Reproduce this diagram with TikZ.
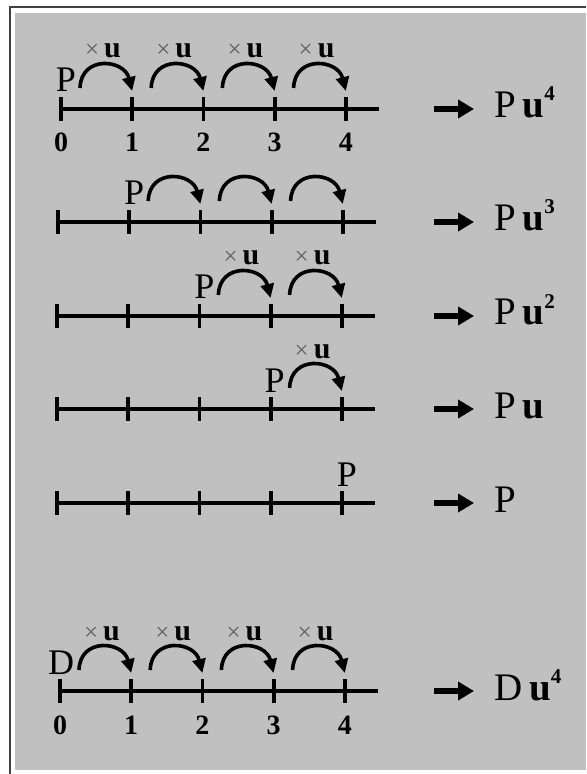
\documentclass[tikz,border=0pt]{standalone}
\usepackage{fontspec}
\setmainfont{Liberation Serif}
\usepackage{xcolor}
\definecolor{panelgray}{RGB}{192,192,192}
\definecolor{framegray}{RGB}{64,64,64}
\definecolor{timesgray}{RGB}{95,95,95}
\usetikzlibrary{arrows.meta}
\tikzset{
  axis line/.style={line width=2.1pt},
  tick mark/.style={line width=1.9pt},
  hop arrow/.style={-{Triangle[length=7pt,width=6.5pt]}, line width=1.8pt},
  result arrow/.style={-{Triangle[length=8pt,width=9pt]}, line width=3pt},
  start label/.style={font=\fontsize{18}{20}\selectfont, inner sep=0pt, anchor=base},
  hop label/.style={font=\fontsize{15}{17}\selectfont, inner sep=0pt, anchor=base},
  tick label/.style={font=\bfseries\fontsize{14}{16}\selectfont, inner sep=0pt, anchor=base},
  result label/.style={font=\fontsize{19.5}{22}\selectfont, inner sep=0pt, anchor=base west},
}
\newcommand{\timesu}{{\color{timesgray}\fontsize{12.5}{14}\selectfont ×}\,\textbf{u}}
\newcommand{\resultpow}[2]{#1\,\textbf{u}\raisebox{8.5pt}{\fontsize{10.5}{12}\selectfont\bfseries #2}}

\begin{document}
\begin{tikzpicture}[x=0.5pt, y=-0.5pt]
  \useasboundingbox (0,0) rectangle (586,774);
  \fill[white] (0,0) rectangle (586,774);
  \fill[panelgray] (15,13) rectangle (586,770);
  \draw[framegray, line width=0.9pt] (10,774) -- (10,7) -- (586,7);

  % number lines
  \foreach \r/\y/\x in {1/109/61, 2/222/58, 3/316/57, 4/409/57, 5/503/57, 6/691/60} {
    \foreach \i in {0,...,4}
      \coordinate (r\r-\i) at ({\x+71.2*\i},\y);
    \coordinate (r\r-end) at ({\x+318},\y);
    \draw[axis line] (r\r-0) -- (r\r-end);
    \foreach \i in {0,...,4}
      \draw[tick mark] ([shift={(0,-12)}]r\r-\i) -- ([shift={(0,12)}]r\r-\i);
  }

  % jumps
  \foreach \r/\i/\j in {1/0/1,1/1/2,1/2/3,1/3/4,2/1/2,2/2/3,2/3/4,3/2/3,3/3/4,4/3/4,6/0/1,6/1/2,6/2/3,6/3/4}
    \draw[hop arrow] ([shift={(19,-21)}]r\r-\i) .. controls +(1,-33) and +(-8,-32) .. ([shift={(0,-18)}]r\r-\j);
  \foreach \r/\i in {1/0,1/1,1/2,1/3,3/2,3/3,4/3,6/0,6/1,6/2,6/3}
    \node[hop label] (h\r-\i) at ([shift={(42,-51)}]r\r-\i) {\timesu};

  % start values
  \node[start label] (p1) at ([shift={(5,-17)}]r1-0) {P};
  \node[start label] (p2) at ([shift={(5,-17)}]r2-1) {P};
  \node[start label] (p3) at ([shift={(5,-17)}]r3-2) {P};
  \node[start label] (p4) at ([shift={(4,-17)}]r4-3) {P};
  \node[start label] (p5) at ([shift={(5,-17)}]r5-4) {P};
  \node[start label] (d6) at ([shift={(1,-17)}]r6-0) {D};

  % year numbers
  \foreach \i in {0,...,4} {
    \node[tick label] (n1-\i) at ([shift={(0,43)}]r1-\i) {\i};
    \node[tick label] (n6-\i) at ([shift={(0,43)}]r6-\i) {\i};
  }

  % results
  \foreach \r/\y in {1/109, 2/222, 3/316, 4/409, 5/503, 6/691} {
    \coordinate (a\r) at (434,\y);
    \coordinate (b\r) at (474,\y);
    \draw[result arrow] (a\r) -- (b\r);
  }
  \node[result label] (res1) at (494,118) {\resultpow{P}{4}};
  \node[result label] (res2) at (494,231) {\resultpow{P}{3}};
  \node[result label] (res3) at (494,325) {\resultpow{P}{2}};
  \node[result label] (res4) at (494,418) {P\,\textbf{u}};
  \node[result label] (res5) at (494,512) {P};
  \node[result label] (res6) at (494,700) {\resultpow{D}{4}};
\end{tikzpicture}
\end{document}
